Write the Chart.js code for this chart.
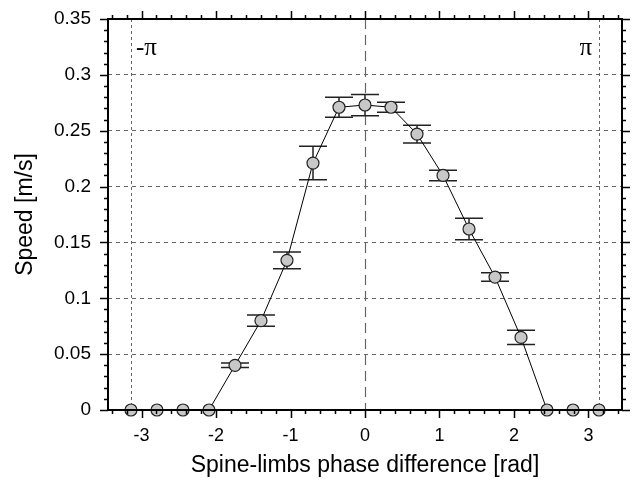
<!DOCTYPE html>
<html>
<head>
<meta charset="utf-8">
<script src="https://cdn.jsdelivr.net/npm/chart.js@4"></script>
<style>
  body { margin: 0; background: #fff; }
  #wrap { width: 634px; height: 480px; }
</style>
</head>
<body>
<div id="wrap"><canvas id="grafico"></canvas></div>
<script>
const fase = [-3.1416, -2.7925, -2.4435, -2.0944, -1.7453, -1.3963, -1.0472, -0.6981, -0.3491, 0,
  0.3491, 0.6981, 1.0472, 1.3963, 1.7453, 2.0944, 2.4435, 2.7925, 3.1416];
const velocidade = [0, 0, 0, 0, 0.040, 0.080, 0.134, 0.221, 0.271, 0.273,
  0.271, 0.247, 0.210, 0.162, 0.119, 0.065, 0, 0, 0];
const erro = [0, 0, 0, 0, 0.002, 0.005, 0.0075, 0.015, 0.009, 0.0095,
  0.0045, 0.008, 0.0047, 0.0096, 0.0038, 0.0064, 0, 0, 0];
const ticks_x = [-3, -2, -1, 0, 1, 2, 3];
const ticks_y = [0, 0.05, 0.1, 0.15, 0.2, 0.25, 0.3, 0.35];

const fonte = "'Liberation Sans', Arial, sans-serif";

// barras de erro, ticks em volta, linhas verticais e rotulos de pi
const extras = {
  id: "extras",
  beforeDatasetsDraw(chart) {
    const { ctx, chartArea: a, scales: { x, y } } = chart;
    ctx.save();
    // linhas verticais em -pi, pi (pontilhado) e zero (tracejado)
    ctx.strokeStyle = "#666";
    ctx.lineWidth = 1;
    ctx.setLineDash([3, 3]);
    [-Math.PI, Math.PI].forEach(v => {
      const px = Math.round(x.getPixelForValue(v)) + 0.5;
      ctx.beginPath(); ctx.moveTo(px, a.top); ctx.lineTo(px, a.bottom); ctx.stroke();
    });
    ctx.setLineDash([10, 6]);
    ctx.lineWidth = 1.2;
    const p0 = Math.round(x.getPixelForValue(0)) + 0.5;
    ctx.beginPath(); ctx.moveTo(p0, a.top); ctx.lineTo(p0, a.bottom); ctx.stroke();
    ctx.setLineDash([]);
    // barras de erro
    ctx.strokeStyle = "#222";
    ctx.lineWidth = 1.5;
    fase.forEach((f, i) => {
      if (!erro[i]) return;
      const px = x.getPixelForValue(f);
      const hi = y.getPixelForValue(velocidade[i] + erro[i]);
      const lo = y.getPixelForValue(velocidade[i] - erro[i]);
      ctx.beginPath();
      ctx.moveTo(px, hi); ctx.lineTo(px, lo);
      ctx.moveTo(px - 14, hi); ctx.lineTo(px + 14, hi);
      ctx.moveTo(px - 14, lo); ctx.lineTo(px + 14, lo);
      ctx.stroke();
    });
    ctx.restore();
  },
  afterDraw(chart) {
    const { ctx, chartArea: a, scales: { x, y } } = chart;
    ctx.save();
    ctx.strokeStyle = "#000";
    ctx.lineWidth = 1.5;
    ctx.beginPath();
    for (let k = -34; k <= 34; k++) {
      const v = k / 10;
      if (k % 2 !== 0) continue;
      const len = k % 10 === 0 ? 8 : 4;
      const px = Math.round(x.getPixelForValue(v)) + 0.5;
      ctx.moveTo(px, a.bottom); ctx.lineTo(px, a.bottom + len);
      ctx.moveTo(px, a.top); ctx.lineTo(px, a.top - len);
    }
    for (let k = 0; k <= 35; k++) {
      const len = k % 5 === 0 ? 8 : 4;
      const py = Math.round(y.getPixelForValue(k / 100)) + 0.5;
      ctx.moveTo(a.left, py); ctx.lineTo(a.left - len, py);
      ctx.moveTo(a.right, py); ctx.lineTo(a.right + len, py);
    }
    ctx.stroke();
    // moldura
    ctx.lineWidth = 2;
    ctx.strokeRect(a.left, a.top, a.right - a.left, a.bottom - a.top);
    // rotulos pi
    ctx.fillStyle = "#000";
    ctx.font = "25px 'Liberation Serif', serif";
    ctx.textBaseline = "middle";
    ctx.textAlign = "left";
    ctx.fillText("-\u03c0", x.getPixelForValue(-Math.PI) + 5, 48);
    ctx.textAlign = "right";
    ctx.fillText("\u03c0", x.getPixelForValue(Math.PI) - 7, 48);
    ctx.restore();
  }
};

const grafico = document.getElementById("grafico");

new Chart(grafico, {
  type: "line",
  data: {
    datasets: [
      {
        label: "Speed",
        data: fase.map((f, i) => ({ x: f, y: velocidade[i] })),
        borderColor: "#000",
        borderWidth: 1,
        pointRadius: 6,
        pointBackgroundColor: "#c8c8c8",
        pointBorderColor: "#222",
        pointBorderWidth: 1.2,
        tension: 0,
        clip: false,
      },
    ],
  },
  options: {
    responsive: true,
    maintainAspectRatio: false,
    animation: false,
    layout: { padding: { top: 19, right: 12, left: 0, bottom: 0 } },
    plugins: { legend: { display: false }, tooltip: { enabled: false } },
    scales: {
      x: {
        type: "linear",
        min: -3.45,
        max: 3.45,
        afterBuildTicks: s => { s.ticks = ticks_x.map(v => ({ value: v })); },
        afterFit: s => { s.height = 70; s.paddingLeft = 0; s.paddingRight = 0; },
        grid: { display: false, drawTicks: false },
        border: { display: false },
        ticks: { color: "#000", font: { family: fonte, size: 18 }, padding: 15 },
        title: { display: true, text: "Spine-limbs phase difference [rad]", color: "#000",
          font: { family: fonte, size: 23 }, padding: { bottom: 1 } },
      },
      y: {
        min: 0,
        max: 0.35,
        afterBuildTicks: s => { s.ticks = ticks_y.map(v => ({ value: v })); },
        afterFit: s => { s.width = 108; s.paddingTop = 0; s.paddingBottom = 0; },
        grid: {
          drawTicks: false,
          color: c => (c.tick && (c.tick.value === 0 || c.tick.value === 0.35)) ? "rgba(0,0,0,0)" : "#666",
          lineWidth: 1,
        },
        border: { display: false, dash: [4, 4] },
        ticks: { color: "#000", font: { family: fonte, size: 19 }, padding: 17,
          callback: v => String(Math.round(v * 100) / 100) },
        title: { display: true, text: "Speed [m/s]", color: "#000",
          font: { family: fonte, size: 23 }, padding: { top: 12 } },
      },
    },
  },
  plugins: [extras],
});
</script>
</body>
</html>
